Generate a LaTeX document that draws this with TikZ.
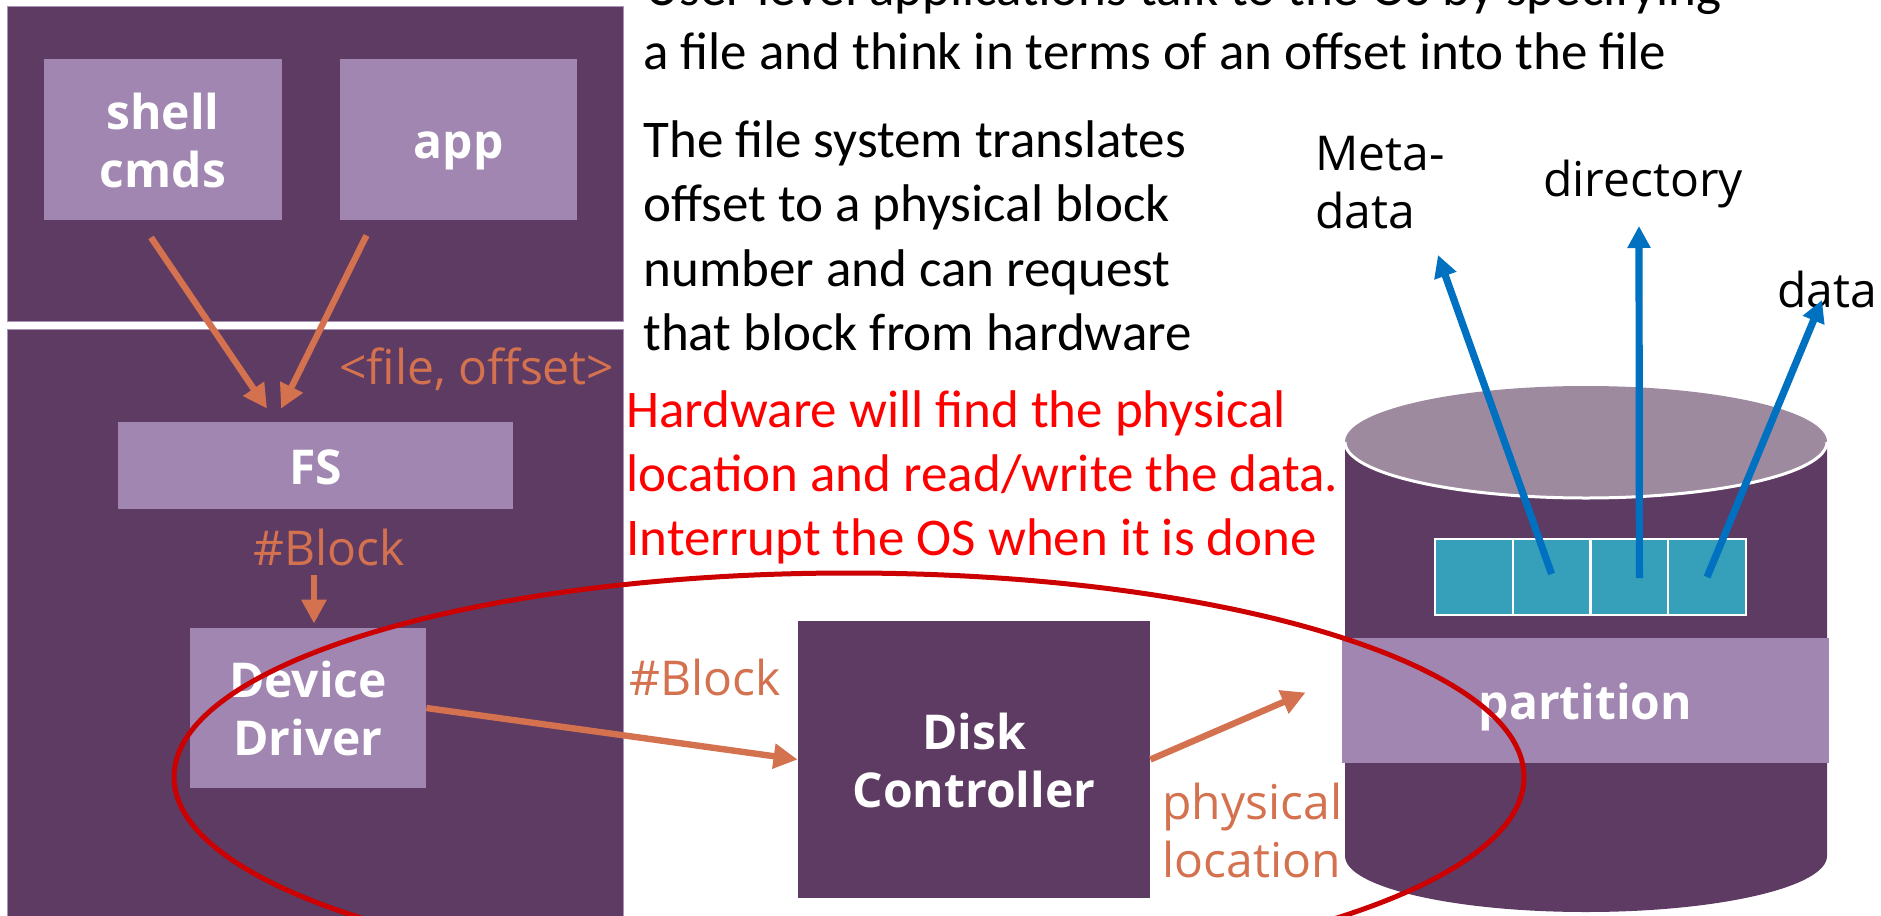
\documentclass[tikz,border=0pt]{standalone}
\usepackage{fontspec}
\usetikzlibrary{arrows.meta,calc}
\newfontfamily\osans{Open Sans}
\newfontfamily\calib{Carlito}
\definecolor{panel}{HTML}{5D3B62}
\definecolor{boxc}{HTML}{A086B0}
\definecolor{edgec}{HTML}{A993B8}
\definecolor{lidc}{HTML}{9D8A9F}
\definecolor{cellc}{HTML}{369FB9}
\definecolor{orng}{HTML}{D4714F}
\definecolor{blu}{HTML}{0070C0}
\definecolor{loopred}{HTML}{CC0000}
\definecolor{redtxt}{HTML}{FF0000}
% struts giving each text block the line box of the font (ascent / descent)
\newcommand\ostop{\rule{0pt}{1.069em}}
\newcommand\osbot{\rule[-0.293em]{0pt}{0pt}}
\begin{document}
\begin{tikzpicture}[x=0.5pt,y=-0.5pt,
  os/.style={font=\osans\fontsize{24pt}{29pt}\selectfont},
  osb/.style={font=\osans\bfseries\fontsize{24pt}{29pt}\selectfont},
  box/.style={osb, fill=boxc, text=white, inner sep=0pt, align=center},
  darkbox/.style={osb, fill=panel, text=white, inner sep=0pt, align=center},
  olabel/.style={os, text=orng, inner sep=0pt},
  blabel/.style={os, text=black, inner sep=0pt},
  ctext/.style={font=\calib\fontsize{26.5pt}{32.25pt}\selectfont, inner sep=0pt, anchor=base west},
  cell/.style={fill=cellc, draw=white, line width=1pt, minimum width=38.875pt, minimum height=38pt, inner sep=0pt},
  oarrow/.style={draw=orng, line width=3.2pt, -{Triangle[width=12pt,length=12pt]}},
  barrow/.style={draw=blu, line width=3.6pt, -{Triangle[width=11pt,length=11pt]}},
]
\useasboundingbox (0,0) rectangle (1881,916);
\fill[white] (0,0) rectangle (1881,916);

% OS panel: user level above, kernel below
\filldraw[fill=panel, draw=edgec, line width=0.5pt] (7,6) rectangle (623,321);
\filldraw[fill=panel, draw=edgec, line width=0.5pt] (7,329) rectangle (623,930);

\node[box, minimum width=119pt, minimum height=80.5pt] (shell) at (163,139.5) {\ostop shell\\cmds\osbot};
\node[box, minimum width=118.5pt, minimum height=80.5pt] (app) at (458.5,139.5) {\ostop app\osbot};
\node[box, minimum width=197.5pt, minimum height=43.5pt] (fs) at (315.5,465.5) {\ostop FS\osbot};
\node[box, minimum width=118pt, minimum height=80pt] (driver) at (308,708) {\ostop Device\\Driver\osbot};
\node[darkbox, minimum width=176pt, minimum height=138.5pt] (controller) at (974,759.5) {\ostop Disk\\Controller\osbot};

% labels on the request path
\node[olabel, anchor=base west] (fileoff) at (339,384) {<file, offset>};
\node[olabel, anchor=base west] (blkA) at (253,565) {\#Block};
\node[olabel, anchor=base west] (blkB) at (629,695) {\#Block};
\node[olabel, anchor=north west, align=left] (physloc) at (1162,767.7) {\ostop physical\\location};

% request path
\draw[oarrow] ($(shell.south)+(-12,17)$) -- ($(fs.north)+(-48.5,-13)$);
\draw[oarrow] ($(app.south)+(-92,15)$) -- ($(fs.north)+(-34.5,-13)$);
\draw[oarrow] ($(fs.south)+(-1.5,66)$) -- ($(driver.north)+(6,-4)$);
\draw[oarrow] (driver.east) -- (controller.west);

% explanatory text
\node[ctext] (top1) at (645,5) {User level applications talk to the OS by specifying};
\node[ctext] (top2) at (643,69) {a file and think in terms of an offset into the file};
\node[ctext] (para1) at (643,157) {The file system translates};
\node[ctext] (para2) at (643,221.5) {offset to a physical block};
\node[ctext] (para3) at (643,286) {number and can request};
\node[ctext] (para4) at (643,350.5) {that block from hardware};
\node[ctext, text=redtxt] (red1) at (626,427) {Hardware will find the physical};
\node[ctext, text=redtxt] (red2) at (626,491) {location and read/write the data.};
\node[ctext, text=redtxt] (red3) at (626,555) {Interrupt the OS when it is done};

% disk
\fill[panel] (1345,442) -- (1345,856)
  arc[start angle=180, end angle=360, x radius=120.5pt, y radius=28pt] -- (1827,442) -- cycle;
\fill[lidc] (1586,442) ellipse [x radius=120.5pt, y radius=28pt];
\draw[white, line width=1.5pt] (1345,442)
  arc[start angle=180, end angle=360, x radius=120.5pt, y radius=28pt];

\node[cell] (c1) at (1473.9,577) {};
\node[cell] (c2) at (1551.6,577) {};
\node[cell] (c3) at (1629.4,577) {};
\node[cell] (c4) at (1707.1,577) {};

\node[box, minimum width=243.5pt, minimum height=62.5pt] (partition) at (1585.5,700.5) {\ostop partition\osbot};
\draw[oarrow] (controller.east) -- ($(partition.west)+(-36,-8)$);

% what the blocks hold
\node[blabel, anchor=north west, align=left] (meta) at (1315,118.7) {\ostop Meta-\\data};
\node[blabel, anchor=base west] (dir) at (1543,196) {directory};
\node[blabel, anchor=base west] (dat) at (1777,307) {data};
\coordinate (metaTip) at (1438,255);
\coordinate (dirTip) at (1639,226);
\coordinate (dataTip) at (1822,300);
\draw[barrow] ($(c2.center)+(0,-3)$) -- (metaTip);
\draw[barrow] ($(c3.center)+(10,1)$) -- (dirTip);
\draw[barrow] (c4.center) -- (dataTip);

% hardware part of the path
\draw[loopred, line width=2.5pt] (849,777) ellipse [x radius=337.5pt, y radius=102pt];
\end{tikzpicture}
\end{document}
